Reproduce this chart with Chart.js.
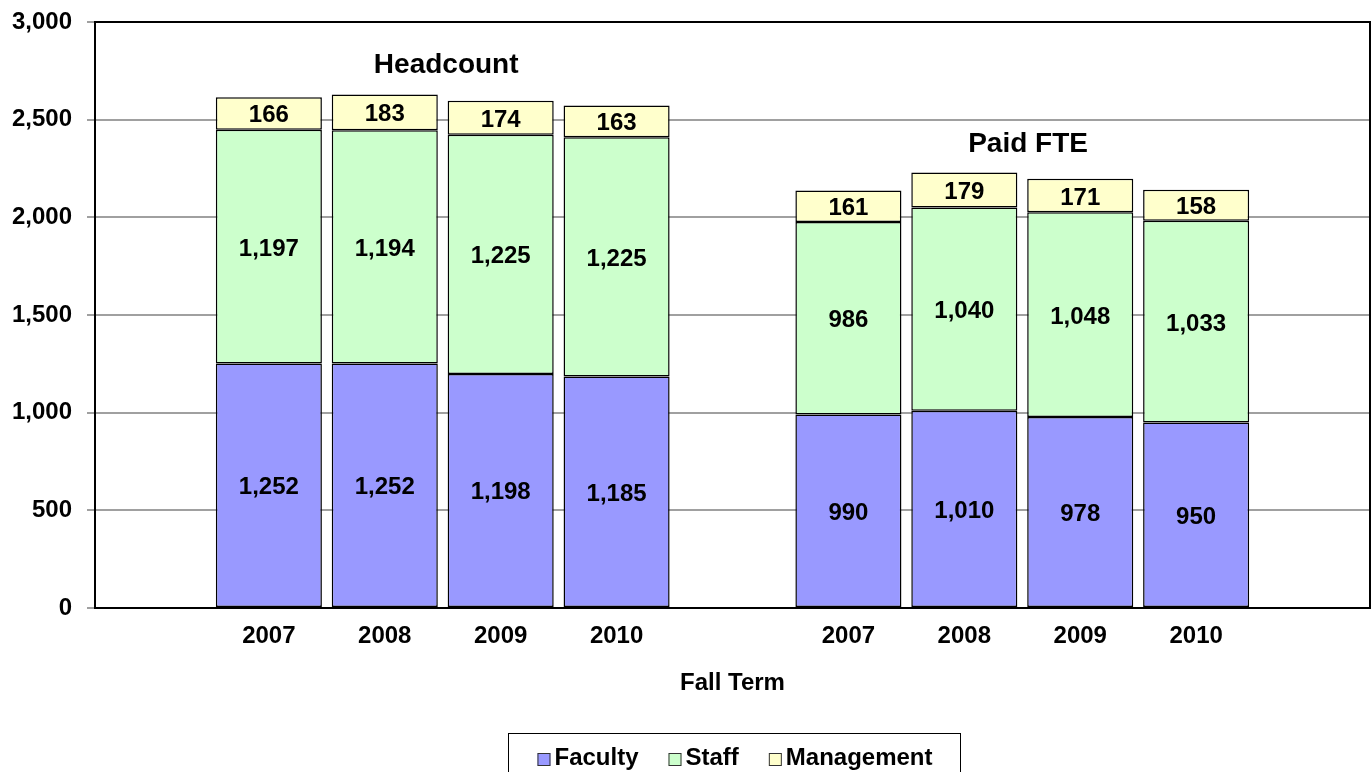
<!DOCTYPE html>
<html>
<head>
<meta charset="utf-8">
<script src="https://cdn.jsdelivr.net/npm/chart.js@4/dist/chart.umd.min.js"></script>
<style>
  html, body { margin: 0; padding: 0; background: #fff; }
  #wrap { width: 1372px; height: 772px; position: relative; }
</style>
</head>
<body>
<div id="wrap"><canvas id="c" width="1372" height="772"></canvas></div>
<script>
// ---- data ----
const categories = ['', '2007', '2008', '2009', '2010', '', '2007', '2008', '2009', '2010', ''];
const faculty    = [null, 1252, 1252, 1198, 1185, null, 990, 1010, 978, 950, null];
const staff      = [null, 1197, 1194, 1225, 1225, null, 986, 1040, 1048, 1033, null];
const management = [null, 166, 183, 174, 163, null, 161, 179, 171, 158, null];
const seriesNames = ['Faculty', 'Staff', 'Management'];
const yTicks = [0, 500, 1000, 1500, 2000, 2500, 3000];
const groupTitles = ['Headcount', 'Paid FTE'];
const groupTitleAt = [[2.53, 2790], [7.55, 2386]]; // [category index, value]
const xTitle = 'Fall Term';

const FONT = "'Liberation Sans', Arial, Helvetica, sans-serif";
Chart.defaults.font.family = FONT;
Chart.defaults.color = '#000';

const colors = ['#9999FF', '#CCFFCC', '#FFFFCC'];

const dataLabels = {
  id: 'dataLabels',
  afterDatasetsDraw(chart) {
    const ctx = chart.ctx;
    ctx.save();
    ctx.font = 'bold 24px ' + FONT;
    ctx.fillStyle = '#000';
    ctx.textAlign = 'center';
    ctx.textBaseline = 'alphabetic';
    chart.data.datasets.forEach((ds, di) => {
      const meta = chart.getDatasetMeta(di);
      meta.data.forEach((el, i) => {
        const v = ds.data[i];
        if (v === null || v === undefined) return;
        const cy = (el.y + el.base) / 2;
        ctx.fillText(v.toLocaleString('en-US'), el.x, cy + 9);
      });
    });
    // group titles
    ctx.font = 'bold 28px ' + FONT;
    const xs = chart.scales.x, ys = chart.scales.y;
    groupTitles.forEach((t, k) => {
      const px = xs.getPixelForValue(groupTitleAt[k][0]);
      const py = ys.getPixelForValue(groupTitleAt[k][1]);
      ctx.fillText(t, px, py + 10);
    });
    ctx.restore();
  }
};

const frame = {
  id: 'frame',
  afterDraw(chart) {
    const a = chart.chartArea;
    const ctx = chart.ctx;
    ctx.save();
    ctx.strokeStyle = '#000';
    ctx.lineWidth = 2;
    ctx.beginPath();
    ctx.moveTo(a.left, a.top);
    ctx.lineTo(a.right, a.top);
    ctx.lineTo(a.right, a.bottom);
    ctx.stroke();
    // custom legend
    const items = chart.data.datasets.map(d => ({ text: d.label, color: d.backgroundColor }));
    ctx.font = 'bold 24px ' + FONT;
    const sq = 13, gapSq = 4, gapItem = 30;
    let total = 0;
    items.forEach((it, i) => {
      it.w = ctx.measureText(it.text).width;
      total += sq + gapSq + it.w + (i < items.length - 1 ? gapItem : 0);
    });
    const boxL = 508, boxR = 960, boxT = 733.5;
    ctx.lineWidth = 1;
    ctx.strokeStyle = '#000';
    ctx.strokeRect(boxL + 0.5, boxT, boxR - boxL, 60);
    let x = (boxL + boxR) / 2 - total / 2 + 1;
    const base = 765;
    items.forEach(it => {
      ctx.fillStyle = it.color;
      ctx.fillRect(x, base - 12, sq, sq);
      ctx.strokeStyle = '#333';
      ctx.strokeRect(x + 0.5, base - 11.5, sq - 1, sq - 1);
      x += sq + gapSq;
      ctx.fillStyle = '#000';
      ctx.textAlign = 'left';
      ctx.textBaseline = 'alphabetic';
      ctx.fillText(it.text, x, base);
      x += it.w + gapItem;
    });
    ctx.restore();
  }
};

const mk = (label, data, color) => ({
  label, data,
  backgroundColor: color,
  borderColor: '#000',
  borderWidth: 1.5,
  borderSkipped: false,
  categoryPercentage: 1,
  barPercentage: 0.915
});

new Chart(document.getElementById('c'), {
  type: 'bar',
  data: {
    labels: categories,
    datasets: [
      mk(seriesNames[0], faculty, colors[0]),
      mk(seriesNames[1], staff, colors[1]),
      mk(seriesNames[2], management, colors[2])
    ]
  },
  options: {
    responsive: false,
    animation: false,
    devicePixelRatio: 1,
    layout: { padding: { top: 22, right: 2, left: 0, bottom: 54 } },
    plugins: {
      legend: { display: false },
      tooltip: { enabled: false },
      title: { display: false }
    },
    scales: {
      x: {
        stacked: true,
        grid: { display: false, drawTicks: false },
        border: { display: true, color: '#000', width: 2 },
        ticks: { font: { size: 24, weight: 'bold' }, color: '#000', padding: 14, maxRotation: 0, autoSkip: false },
        title: { display: true, text: xTitle, font: { size: 24, weight: 'bold' }, color: '#000', padding: { top: 4, bottom: 20 } },
        afterFit(s) { s.height = 110; s.paddingLeft = 0; s.paddingRight = 0; }
      },
      y: {
        stacked: true,
        min: 0, max: 3000,
        afterBuildTicks(s) { s.ticks = yTicks.map(v => ({ value: v })); },
        grid: { color: '#a0a0a0', lineWidth: 2, tickLength: 8, drawOnChartArea: true },
        border: { display: true, color: '#000', width: 2 },
        ticks: {
          font: { size: 24, weight: 'bold' }, color: '#000', padding: 15,
          callback: v => v.toLocaleString('en-US')
        },
        afterFit(s) { s.width = 95; s.paddingTop = 0; s.paddingBottom = 0; }
      }
    }
  },
  plugins: [dataLabels, frame]
});
</script>
</body>
</html>
